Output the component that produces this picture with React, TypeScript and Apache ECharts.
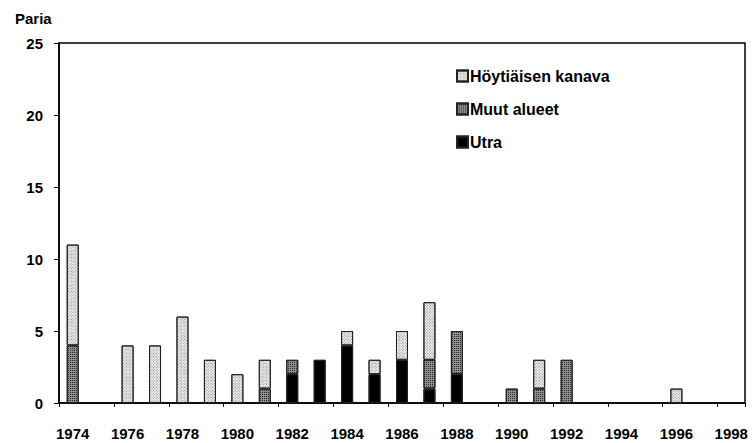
import React, { useEffect, useRef } from "react";
import * as echarts from "echarts";

const years = [
  "1974", "1975", "1976", "1977", "1978", "1979", "1980", "1981", "1982", "1983",
  "1984", "1985", "1986", "1987", "1988", "1989", "1990", "1991", "1992", "1993",
  "1994", "1995", "1996", "1997", "1998",
];
const utra = [0, 0, 0, 0, 0, 0, 0, 0, 2, 3, 4, 2, 3, 1, 2, 0, 0, 0, 0, 0, 0, 0, 0, 0, 0];
const muutAlueet = [4, 0, 0, 0, 0, 0, 0, 1, 1, 0, 0, 0, 0, 2, 3, 0, 1, 1, 3, 0, 0, 0, 0, 0, 0];
const hoytiaisenKanava = [7, 0, 4, 4, 6, 3, 2, 2, 0, 0, 1, 1, 2, 4, 0, 0, 0, 2, 0, 0, 0, 0, 1, 0, 0];
const yTicks = [0, 5, 10, 15, 20, 25];

const FONT = "'Liberation Sans', Arial, Helvetica, sans-serif";

export default function App() {
  const ref = useRef<HTMLDivElement>(null);
  useEffect(() => {
    if (!ref.current) return;
    const chart = echarts.init(ref.current, null, { renderer: "svg" });
    const nz = (a: number[]) => a.map((v) => (v === 0 ? null : v));
    const border = { borderColor: "#222", borderWidth: 1 };
    chart.setOption({
      animation: false,
      backgroundColor: "#fff",
      aria: { enabled: true, decal: { show: true } },
      textStyle: { fontFamily: FONT, fontWeight: "bold", color: "#000" },
      grid: {
        left: 59, right: 10, top: 43, bottom: 40,
        show: true, borderColor: "#000", borderWidth: 1.5,
      },
      title: {
        text: "Paria", left: 10, top: 6,
        textStyle: { fontFamily: FONT, fontWeight: "bold", fontSize: 15, color: "#000" },
      },
      legend: {
        orient: "vertical", left: 451, top: 62, itemGap: 15,
        itemWidth: 11, itemHeight: 11, icon: "rect",
        data: ["Höytiäisen kanava", "Muut alueet", "Utra"],
        textStyle: { fontFamily: FONT, fontWeight: "bold", fontSize: 16, lineHeight: 18, color: "#000", padding: [0, 0, 0, -3] },
      },
      xAxis: {
        type: "category", data: years,
        axisLine: { lineStyle: { color: "#000", width: 1.5 } },
        axisTick: { show: true, length: 4, lineStyle: { color: "#000" } },
        axisLabel: {
          interval: 1, margin: 23, color: "#000",
          fontFamily: FONT, fontWeight: "bold", fontSize: 15,
        },
      },
      yAxis: {
        type: "value", min: yTicks[0], max: yTicks[yTicks.length - 1], interval: 5,
        splitLine: { show: false },
        axisLine: { show: true, lineStyle: { color: "#000", width: 1.5 } },
        axisTick: { show: true, length: 5, lineStyle: { color: "#000" } },
        axisLabel: {
          margin: 16, color: "#000", fontFamily: FONT, fontWeight: "bold", fontSize: 15,
          padding: [6, 0, 0, 0],
        },
      },
      series: [
        {
          name: "Utra", type: "bar", stack: "a", barWidth: 12, data: nz(utra),
          itemStyle: { color: "#000", ...border, decal: { symbol: "none" } },
        },
        {
          name: "Muut alueet", type: "bar", stack: "a", barWidth: 12, data: nz(muutAlueet),
          itemStyle: {
            color: "#8e8e8e", ...border,
            decal: { symbol: "rect", symbolSize: 1, dashArrayX: [1, 1], dashArrayY: [1, 1], color: "#2a2a2a" },
          },
        },
        {
          name: "Höytiäisen kanava", type: "bar", stack: "a", barWidth: 12, data: nz(hoytiaisenKanava),
          itemStyle: {
            color: "#eeeeee", ...border,
            decal: { symbol: "rect", symbolSize: 1, dashArrayX: [1, 1], dashArrayY: [1, 1], color: "#8a8a8a" },
          },
        },
      ],
    });
    return () => chart.dispose();
  }, []);
  return <div ref={ref} style={{ width: 755, height: 443, position: "absolute", left: 0, top: 0 }} />;
}
